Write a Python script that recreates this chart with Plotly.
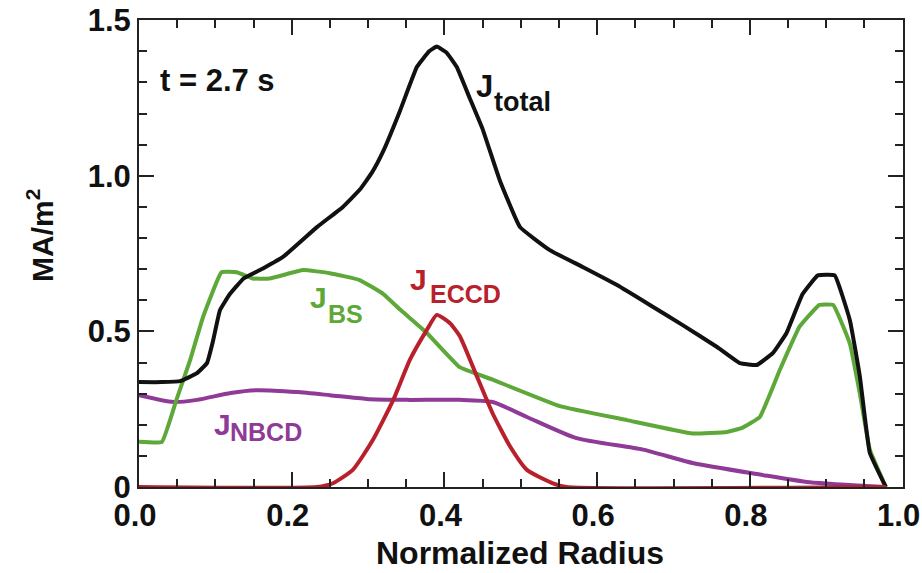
import plotly.graph_objects as go

# ---- data ----
x_total = [0.0, 0.03, 0.054, 0.076, 0.089, 0.097, 0.106, 0.119, 0.137, 0.163, 0.189, 0.233,
           0.267, 0.289, 0.305, 0.32, 0.342, 0.364, 0.38, 0.39, 0.403, 0.416, 0.433, 0.45,
           0.4725, 0.499, 0.538, 0.581, 0.626, 0.669, 0.712, 0.757, 0.787, 0.809, 0.83,
           0.848, 0.869, 0.889, 0.911, 0.931, 0.944, 0.957, 0.978]
y_total = [0.337, 0.337, 0.34, 0.366, 0.398, 0.47, 0.568, 0.62, 0.67, 0.703, 0.74, 0.835,
           0.90, 0.955, 1.01, 1.08, 1.21, 1.35, 1.40, 1.415, 1.395, 1.35, 1.25, 1.15,
           0.985, 0.835, 0.761, 0.707, 0.649, 0.585, 0.52, 0.45, 0.398, 0.392, 0.43,
           0.495, 0.62, 0.68, 0.68, 0.535, 0.355, 0.11, 0.0]

x_bs = [0.0, 0.03, 0.049, 0.067, 0.084, 0.108, 0.128, 0.149, 0.171, 0.215, 0.25, 0.289,
        0.32, 0.342, 0.377, 0.42, 0.463, 0.551, 0.639, 0.725, 0.77, 0.79, 0.813, 0.839,
        0.865, 0.891, 0.909, 0.931, 0.944, 0.957, 0.978]
y_bs = [0.145, 0.145, 0.28, 0.408, 0.547, 0.69, 0.69, 0.67, 0.67, 0.697, 0.687, 0.665,
        0.62, 0.57, 0.495, 0.385, 0.345, 0.26, 0.215, 0.172, 0.177, 0.19, 0.225, 0.375,
        0.515, 0.585, 0.585, 0.46, 0.30, 0.12, 0.0]

x_nbcd = [0.0, 0.045, 0.076, 0.12, 0.154, 0.207, 0.25, 0.298, 0.35, 0.42, 0.463, 0.508,
          0.573, 0.66, 0.725, 0.813, 0.878, 0.978]
y_nbcd = [0.295, 0.273, 0.28, 0.302, 0.311, 0.305, 0.295, 0.283, 0.28, 0.28, 0.273, 0.225,
          0.157, 0.12, 0.077, 0.04, 0.015, 0.0]

x_eccd = [0.0, 0.233, 0.254, 0.28, 0.306, 0.333, 0.355, 0.377, 0.39, 0.407, 0.42, 0.44,
          0.463, 0.486, 0.508, 0.542, 0.56, 0.978]
y_eccd = [0.0, 0.0, 0.012, 0.055, 0.15, 0.28, 0.41, 0.505, 0.553, 0.527, 0.485, 0.37,
          0.237, 0.13, 0.055, 0.012, 0.0, 0.0]

x_ticks = [0.0, 0.2, 0.4, 0.6, 0.8, 1.0]
x_ticktext = ["0.0", "0.2", "0.4", "0.6", "0.8", "1.0"]
y_ticks = [0, 0.5, 1.0, 1.5]
y_ticktext = ["0", "0.5", "1.0", "1.5"]

BLACK = "#111111"
GREEN = "#5ea83a"
RED = "#b8202b"
PURPLE = "#8e3a96"
FONT = "Liberation Sans, Arial, sans-serif"
AX = "#222222"

X_RANGE = [0, 1.0005]
Y_RANGE = [0, 1.5005]

fig = go.Figure()
for xs, ys, col, sm in [(x_nbcd, y_nbcd, PURPLE, 0.6), (x_bs, y_bs, GREEN, 0.3),
                        (x_total, y_total, BLACK, 0.3), (x_eccd, y_eccd, RED, 0.5)]:
    fig.add_trace(go.Scatter(x=xs, y=ys, mode="lines", cliponaxis=False,
                             line=dict(color=col, width=4, shape="spline", smoothing=sm),
                             showlegend=False, hoverinfo="skip"))
# invisible point so the mirror (top/right) axes get drawn
fig.add_trace(go.Scatter(x=[0.5], y=[0.5], xaxis="x2", yaxis="y2", mode="markers",
                         marker=dict(opacity=0), showlegend=False, hoverinfo="skip"))

tick_font = dict(family=FONT, size=31, color="#111111", weight="bold")
base = dict(showline=True, linecolor=AX, linewidth=2, ticks="inside", tickwidth=2,
            tickcolor=AX, ticklen=15, showgrid=False, zeroline=False, automargin=False)
minor_x = dict(ticks="inside", ticklen=8, tickwidth=2, tickcolor=AX, dtick=0.05, tick0=0,
               showgrid=False)
minor_y = dict(ticks="inside", ticklen=8, tickwidth=2, tickcolor=AX, dtick=0.1, tick0=0,
               showgrid=False)

fig.update_layout(
    xaxis=dict(range=X_RANGE, tickvals=x_ticks, ticktext=x_ticktext, tickfont=tick_font,
               ticklabeloverflow="allow", ticklabelshift=-4, minor=minor_x, **base),
    yaxis=dict(range=Y_RANGE, tickvals=y_ticks, ticktext=y_ticktext, tickfont=tick_font,
               minor=minor_y, **base),
    xaxis2=dict(range=X_RANGE, tickvals=x_ticks, showticklabels=False, overlaying="x",
                side="top", anchor="y2", minor=minor_x, **base),
    yaxis2=dict(range=Y_RANGE, tickvals=y_ticks, showticklabels=False, overlaying="y",
                side="right", anchor="x2", minor=minor_y, **base),
)

W, H = 922, 573
L, R, T, B = 139, 19, 20, 86
pw, ph = W - L - R, H - T - B


def px2x(px):
    return (px - L) / pw * (X_RANGE[1] - X_RANGE[0]) + X_RANGE[0]


def px2y(py):
    return (H - B - py) / ph * (Y_RANGE[1] - Y_RANGE[0]) + Y_RANGE[0]


def txt(text, xp, yp, size, color, xanchor="left"):
    fig.add_annotation(text=text, x=px2x(xp), y=px2y(yp), xref="x", yref="y",
                       xanchor=xanchor, yanchor="middle", showarrow=False,
                       font=dict(family=FONT, size=size, color=color, weight="bold"))


txt("t = 2.7 s", 158, 80, 31, BLACK)
txt("J", 474, 86, 31, BLACK)
txt("total", 492, 102, 27, BLACK)
txt("J", 408, 279, 30, RED)
txt("ECCD", 428, 294, 25, RED)
txt("J", 308, 297, 30, GREEN)
txt("BS", 326, 314, 25, GREEN)
txt("J", 212, 424, 30, PURPLE)
txt("NBCD", 228, 432, 25, PURPLE)

fig.add_annotation(text="Normalized Radius", x=(520 - L) / pw, y=(H - B - 553) / ph,
                   xref="paper", yref="paper", showarrow=False,
                   xanchor="center", yanchor="middle",
                   font=dict(family=FONT, size=32, color="#111111", weight="bold"))
fig.add_annotation(text="MA/m<sup>2</sup>", x=(40 - L) / pw, y=(H - B - 235) / ph,
                   xref="paper", yref="paper", showarrow=False, textangle=-90,
                   xanchor="center", yanchor="middle",
                   font=dict(family=FONT, size=30, color="#111111", weight="bold"))

fig.update_layout(width=W, height=H, margin=dict(l=L, r=R, t=T, b=B, pad=0),
                  paper_bgcolor="white", plot_bgcolor="white")

fig.write_html("out.html", config={"displayModeBar": False},
               post_script="document.body.style.margin='0';"
                           "document.body.style.overflow='hidden';")
